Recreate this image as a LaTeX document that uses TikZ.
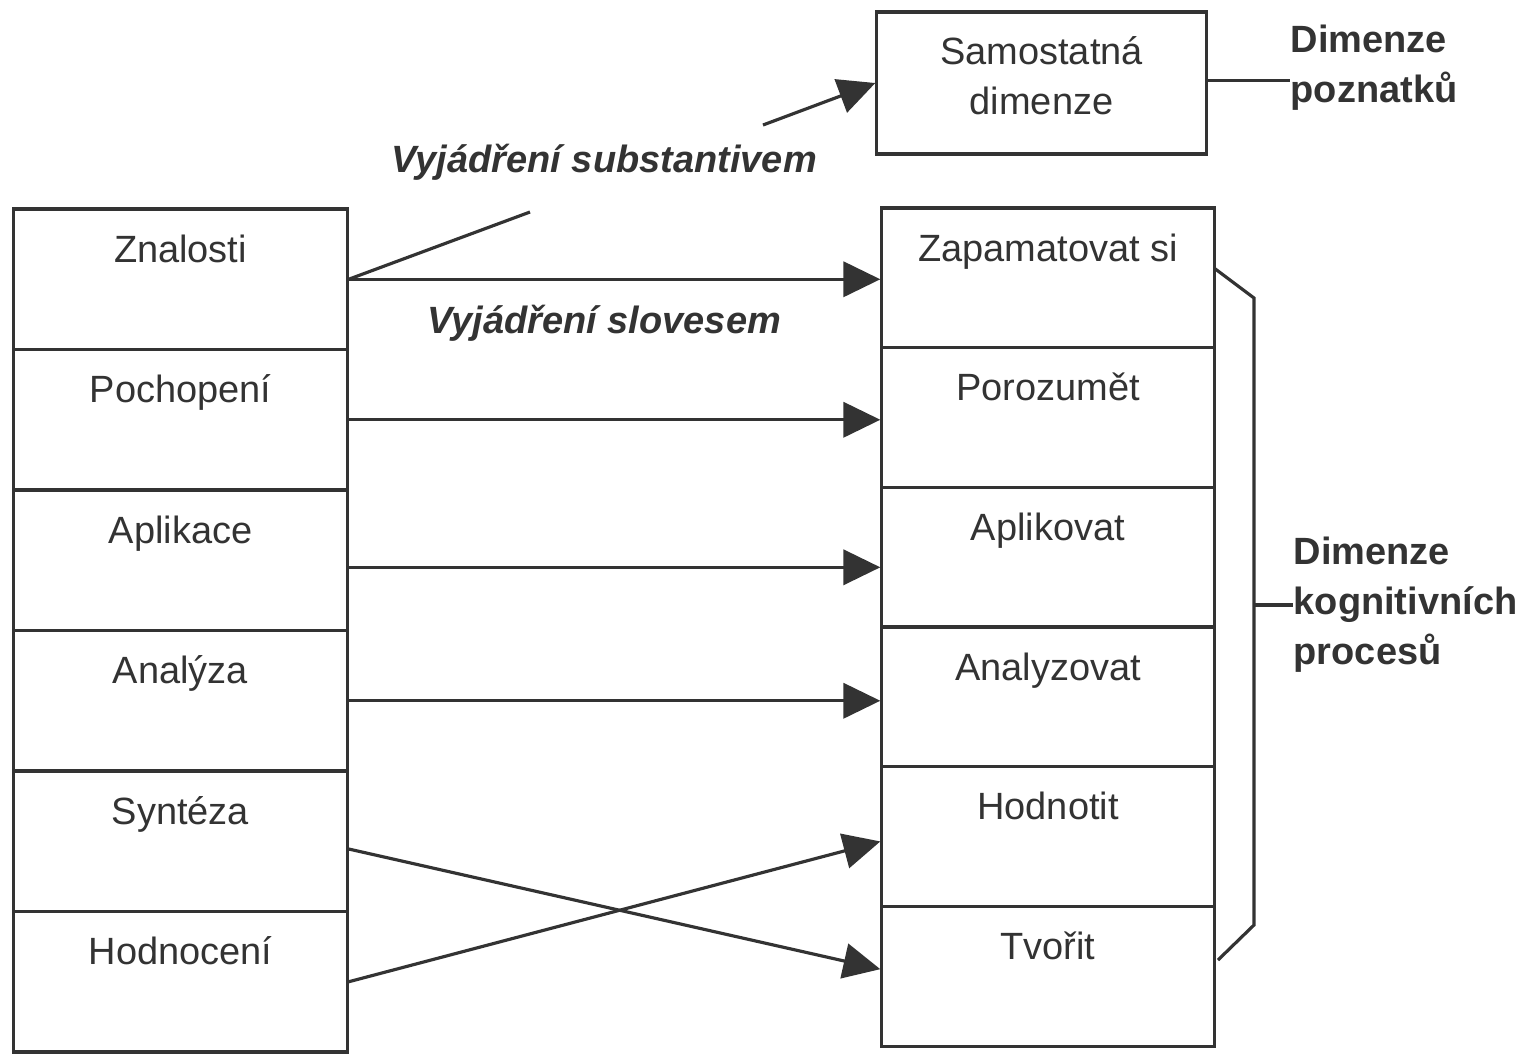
\documentclass[tikz,border=0pt]{standalone}
\usepackage{fontspec}
\setmainfont{Liberation Sans}
\usetikzlibrary{arrows.meta}
\definecolor{ink}{HTML}{333333}
\begin{document}
\begin{tikzpicture}[x=0.01cm,y=-0.01cm,
  cell/.style={draw=ink, line width=0.9pt, minimum width=3.33cm, minimum height=1.405cm, inner sep=0pt},
  rcell/.style={cell, minimum width=3.32cm, minimum height=1.3967cm},
  celltext/.style={anchor=base, text=ink, font=\fontsize{10.8}{13}\selectfont, inner sep=0pt},
  conn/.style={draw=ink, line width=0.9pt, -{Triangle[length=10.5pt,width=10pt]}},
  plain/.style={draw=ink, line width=0.9pt},
  dim/.style={text=ink, font=\fontsize{10.8}{14.2}\selectfont\bfseries, align=left, anchor=west, inner sep=0pt},
  expr/.style={text=ink, font=\fontsize{10.8}{13}\selectfont\bfseries\itshape, inner sep=0pt}]
\useasboundingbox (0,0) rectangle (1523,1056);

% left column
\foreach \t [count=\i] in {Znalosti, Pochopení, Aplikace, Analýza, Syntéza, Hodnocení} {
  \node[cell] (l\i) at (180.5, {209+140.5*(\i-0.5)}) {};
  \node[celltext] (lt\i) at (180.5, {209+140.5*(\i-1)+53}) {\t};
}
% right column
\foreach \t [count=\i] in {Zapamatovat si, Porozumět, Aplikovat, Analyzovat, Hodnotit, Tvořit} {
  \node[rcell] (r\i) at (1048, {208+139.67*(\i-0.5)}) {};
  \node[celltext] (rt\i) at (1048, {208+139.67*(\i-1)+53}) {\t};
}

% top box
\node[cell, minimum width=3.29cm, minimum height=1.42cm] (top) at (1041.5,83) {};
\node[align=center, text=ink, inner sep=0pt,
      font=\fontsize{10.8}{14.2}\selectfont] (toptext) at (1041.5,76) {Samostatná\\dimenze};

% horizontal arrows
\draw[conn] (l1.east) -- (r1.west |- l1.east);
\draw[conn] (l2.east) -- (r2.west |- l2.east);
\draw[conn] ([yshift=-2pt]l3.east) -- ([yshift=-2pt]r3.west |- l3.east);
\draw[conn] (l4.east) -- (r4.west |- l4.east);
% crossing arrows
\draw[conn] ([yshift=-2.2pt]l5.east) -- ([yshift=2pt]r6.west);
\draw[conn] (l6.east) -- ([yshift=-1.4pt]r5.west);

% noun expression arrow
\coordinate (s1) at (530,212);
\coordinate (s2) at (763,125);
\draw[plain] (l1.east) -- (s1);
\draw[conn] (s2) -- (top.west);

% labels
\node[expr] (vs) at (604,162) {Vyjádření substantivem};
\node[expr] (vv) at (604,323) {Vyjádření slovesem};

\node[dim] (dp) at (1290,68) {Dimenze\\poznatků};
\draw[plain] ([yshift=0.8pt]top.east) -- ([yshift=0.8pt]top.east -| dp.west);

\node[dim] (dk) at (1293,605) {Dimenze\\kognitivních\\procesů};
\coordinate (b1) at (1214,268);
\coordinate (b2) at (1254,298);
\coordinate (b3) at (1254,925);
\coordinate (b4) at (1218,960);
\draw[plain] (b1) -- (b2) -- (b3) -- (b4);
\draw[plain] (b2 |- dk.west) -- (dk.west);
\end{tikzpicture}
\end{document}
